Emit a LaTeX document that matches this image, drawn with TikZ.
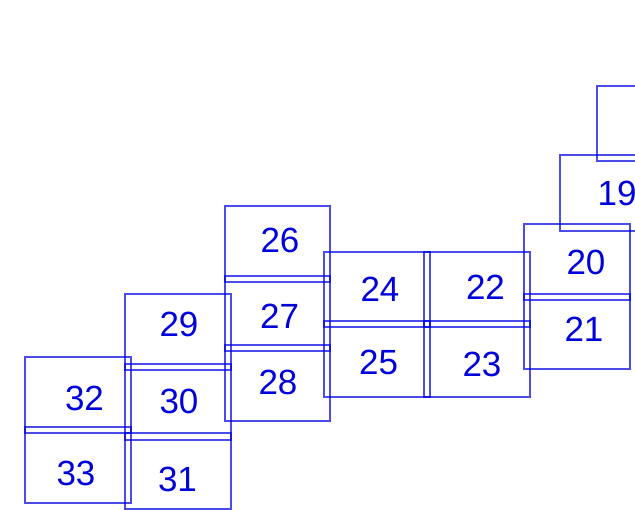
\documentclass[tikz,border=0pt]{standalone}
\usepackage{fontspec}
\setmainfont{Liberation Sans}
\definecolor{lineblue}{RGB}{0,0,230}
\definecolor{textblue}{RGB}{0,0,220}
\begin{document}
\begin{tikzpicture}[x=1pt,y=-1pt,
  cellbox/.style={draw=lineblue,draw opacity=0.7,line width=1.2pt},
  num/.style={text=textblue,inner sep=0pt,anchor=center,font=\fontsize{35}{40}\selectfont}]
\useasboundingbox (0,0) rectangle (635,510);
\clip (0,0) rectangle (635,510);
% boxes
\draw[cellbox] (597,86) rectangle (703,161);
\draw[cellbox] (560,155) rectangle (666,231);
\draw[cellbox] (524,224) rectangle (630,300);
\draw[cellbox] (524,294) rectangle (630,369);
\draw[cellbox] (424,252) rectangle (530,327);
\draw[cellbox] (424,321) rectangle (530,397);
\draw[cellbox] (324,252) rectangle (430,327);
\draw[cellbox] (324,321) rectangle (430,397);
\draw[cellbox] (225,206) rectangle (330,282);
\draw[cellbox] (225,276) rectangle (330,351);
\draw[cellbox] (225,345) rectangle (330,421);
\draw[cellbox] (125,294) rectangle (231,370);
\draw[cellbox] (125,364) rectangle (231,440);
\draw[cellbox] (125,433) rectangle (231,509);
\draw[cellbox] (25,357) rectangle (131,433);
\draw[cellbox] (25,427) rectangle (131,503);
% labels
\node[num] (t19) at (617,193) {19};
\node[num] (t20) at (586,262) {20};
\node[num] (t21) at (584,329.5) {21};
\node[num] (t22) at (485.5,287.5) {22};
\node[num] (t23) at (482,364) {23};
\node[num] (t24) at (380,289) {24};
\node[num] (t25) at (378.7,362) {25};
\node[num] (t26) at (280,240.5) {26};
\node[num] (t27) at (279.7,316) {27};
\node[num] (t28) at (278,382) {28};
\node[num] (t29) at (179,324) {29};
\node[num] (t30) at (179,401.5) {30};
\node[num] (t31) at (177.5,479) {31};
\node[num] (t32) at (84.5,398) {32};
\node[num] (t33) at (76,473) {33};
\end{tikzpicture}
\end{document}
